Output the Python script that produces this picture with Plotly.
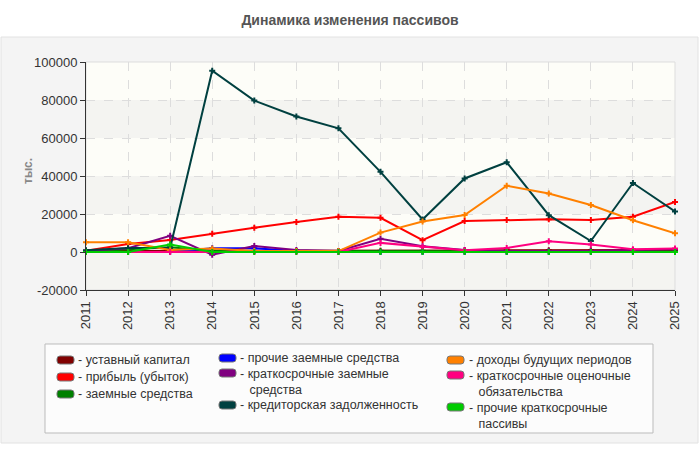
import plotly.graph_objects as go

years = list(range(2011, 2026))

names = [
    "уставный капитал",
    "прибыль (убыток)",
    "заемные средства",
    "прочие заемные средства",
    "краткосрочные заемные|средства",
    "кредиторская задолженность",
    "доходы будущих периодов",
    "краткосрочные оценочные|обязательства",
    "прочие краткосрочные|пассивы",
]
colors = ["#800000", "#ff0000", "#008000", "#0000ff", "#800080",
          "#004040", "#ff8000", "#ff0080", "#00cc00"]

ustavny = [500, 500, 500, 500, 500, 500, 500, 600, 700, 800, 900, 900, 900, 900, 1000]
pribyl = [700, 4200, 6300, 9600, 12800, 15800, 18600, 18000, 6200, 16300, 16800, 17200, 16800, 18600, 26300]
zaemnye = [0, 1500, 2500, 500, 500, 500, 500, 300, 300, 300, 300, 300, 300, 300, 300]
prochie_zaemnye = [0, 0, 0, 2000, 2000, 500, 0, 0, 0, 0, 0, 0, 0, 0, 0]
kratk_zaemnye = [500, 2000, 8500, -1400, 3200, 1000, 500, 7000, 3000, 1000, 500, 500, 500, 1000, 1500]
kreditorskaya = [900, 2100, 2100, 95400, 79700, 71300, 65100, 42200, 17100, 38700, 47200, 19400, 5800, 36300, 21300]
dohody = [5100, 5100, 1000, 1800, 500, 500, 500, 10200, 16000, 19500, 34900, 30800, 24700, 16700, 9900]
ocenochnye = [0, 0, 0, 0, 0, 0, 0, 4800, 2700, 900, 2100, 5600, 4000, 1400, 1800]
prochie_kratk = [0, 0, 4000, 0, 0, 0, 0, 0, 0, 0, 0, 0, 0, 0, 0]

series = [ustavny, pribyl, zaemnye, prochie_zaemnye, kratk_zaemnye,
          kreditorskaya, dohody, ocenochnye, prochie_kratk]

y_ticks = [-20000, 0, 20000, 40000, 60000, 80000, 100000]

FONT = "Liberation Sans, Arial, sans-serif"
LEG_FS = 12.5

# ---- layout geometry (pixels) ----
W, H = 700, 450
L, R, T, B = 86, 25, 62, 160
PW, PH = W - L - R, H - T - B


def px(xp):
    return (xp - L) / PW


def py(yp):
    return (H - B - yp) / PH


fig = go.Figure()
for name, col, vals in zip(names, colors, series):
    fig.add_trace(go.Scatter(
        x=years, y=vals, name=name.replace("|", " "), mode="lines+markers",
        line=dict(color=col, width=2),
        marker=dict(symbol="cross", size=5, color=col),
        cliponaxis=False, showlegend=False,
    ))

shapes = []
annotations = []
# outer panel
shapes.append(dict(type="rect", xref="paper", yref="paper",
                   x0=px(1), x1=px(698), y0=py(443), y1=py(37),
                   fillcolor="#f4f4f4", line=dict(color="#e2e2e2", width=1),
                   layer="below"))
# plot area bands
for i in range(len(y_ticks) - 1):
    hatched = (i % 2 == 0)
    shapes.append(dict(type="rect", xref="paper", yref="y",
                       x0=0, x1=1, y0=y_ticks[i], y1=y_ticks[i + 1],
                       fillcolor="#f4f4f1" if hatched else "#fdfdf8",
                       line=dict(width=0), layer="below"))
shapes.append(dict(type="rect", xref="paper", yref="paper",
                   x0=0, x1=1, y0=0, y1=1,
                   fillcolor="rgba(0,0,0,0)", line=dict(color="#dddddd", width=1),
                   layer="below"))
# legend box
shapes.append(dict(type="rect", xref="paper", yref="paper",
                   x0=px(45), x1=px(653), y0=py(433), y1=py(344),
                   fillcolor="#fcfcfc", line=dict(color="#bbbbbb", width=1),
                   layer="below"))

# legend entries: column swatch x, text x, first-line y positions
col_x = [(57, 77), (219, 239), (447, 468)]
row_y = [[360, 377, 394], [358, 373, 405], [360, 375, 407]]


def rounded_rect(x0, y0, x1, y1, r):
    X0, X1 = px(x0), px(x1)
    rx = r / PW
    ry = r / PH
    Y0, Y1 = py(y1), py(y0)
    return (f"M{X0 + rx},{Y0} L{X1 - rx},{Y0} Q{X1},{Y0} {X1},{Y0 + ry} "
            f"L{X1},{Y1 - ry} Q{X1},{Y1} {X1 - rx},{Y1} L{X0 + rx},{Y1} "
            f"Q{X0},{Y1} {X0},{Y1 - ry} L{X0},{Y0 + ry} Q{X0},{Y0} {X0 + rx},{Y0} Z")


for i, (name, col) in enumerate(zip(names, colors)):
    c, r = divmod(i, 3)
    sx, tx = col_x[c]
    yy = row_y[c][r]
    shapes.append(dict(type="path", xref="paper", yref="paper",
                       path=rounded_rect(sx, yy - 4, sx + 17, yy + 4, 3),
                       fillcolor=col, line=dict(color="#777777", width=1),
                       layer="above"))
    parts = name.split("|")
    text = "- " + parts[0]
    for extra in parts[1:]:
        text += "<br>\u00a0\u00a0\u2009" + extra
    if len(parts) > 1:
        annotations.append(dict(text=text, xref="paper", yref="paper",
                                x=px(tx), y=py(yy - 7.5), xanchor="left", yanchor="top",
                                align="left", showarrow=False, borderpad=0,
                                font=dict(family=FONT, size=LEG_FS, color="#333333")))
    else:
        annotations.append(dict(text=text, xref="paper", yref="paper",
                                x=px(tx), y=py(yy), xanchor="left", yanchor="middle",
                                align="left", showarrow=False, borderpad=0,
                                font=dict(family=FONT, size=LEG_FS, color="#333333")))

annotations.append(dict(text="<b>тыс.</b>", xref="paper", yref="paper",
                        x=px(19), y=py(171), textangle=-90,
                        showarrow=False, font=dict(family=FONT, size=12, color="#888888")))

fig.update_layout(
    width=W, height=H,
    margin=dict(l=L, r=R, t=T, b=B, autoexpand=False),
    paper_bgcolor="#ffffff",
    plot_bgcolor="rgba(0,0,0,0)",
    font=dict(family=FONT, size=13, color="#333333"),
    title=dict(text="<b>Динамика изменения пассивов</b>", x=0.5, xanchor="center",
               y=1 - 20 / H, yanchor="middle",
               font=dict(size=14, color="#555555")),
    xaxis=dict(range=[2011, 2025], tickvals=years, ticktext=[str(y) for y in years],
               tickangle=-90, showgrid=True, gridcolor="#dddddd", griddash="dash",
               showline=True, linecolor="#333333", linewidth=1,
               ticks="outside", ticklen=5, tickcolor="#333333", zeroline=False,
               tickfont=dict(size=13, color="#333333")),
    yaxis=dict(range=[-20000, 100000], tickvals=y_ticks,
               ticktext=[str(v) for v in y_ticks],
               showgrid=True, gridcolor="#dddddd", griddash="dash",
               showline=True, linecolor="#333333", linewidth=1,
               ticks="outside", ticklen=5, tickcolor="#333333", zeroline=False,
               tickfont=dict(size=13, color="#333333")),
    shapes=shapes,
    annotations=annotations,
    showlegend=False,
)

fig.write_html("out.html")
